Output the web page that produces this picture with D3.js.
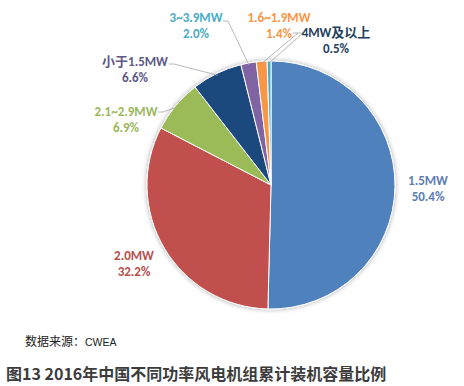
<!DOCTYPE html>
<html>
<head>
<meta charset="utf-8">
<script src="https://cdn.jsdelivr.net/npm/d3@7"></script>
<style>
  body { margin: 0; background: #fff; }
  svg { display: block; }
</style>
</head>
<body>
<svg id="chart" width="464" height="386"></svg>
<script>
// data: installed capacity share by turbine size, 2016
const categories = ['1.5MW', '2.0MW', '2.1~2.9MW', '小于1.5MW', '3~3.9MW', '1.6~1.9MW', '4MW及以上'];
const shares = [50.4, 32.2, 6.9, 6.6, 2.0, 1.4, 0.5];
const sliceColors = ['#4f81bd', '#c0504d', '#9bbb59', '#1f497d', '#8064a2', '#f79646', '#4bacc6'];
const labelColors = ['#5b7db5', '#b5504e', '#9bb85a', '#5c5888', '#4bacc6', '#f79646', '#243f60'];

const svg = d3.select('#chart');
const cx = 271;
const cy = 185;
const radius = 124;

// label anchors (text centre, first line baseline) and leader start points
const labelPos = [[428, 185], [134, 260], [126, 116], [135, 66], [196, 22], [279, 22], [336, 37]];
const leaderStart = [null, null, [158, 112], [169, 64], [223, 21], [293, 33], [298, 33]];

const pie = d3.pie().value(d => d).sort(null);
const arcs = pie(shares);
const arc = d3.arc().innerRadius(0).outerRadius(radius);

const defs = svg.append('defs');
const shadow = defs.append('filter').attr('id', 'glow')
  .attr('x', '-20%').attr('y', '-20%').attr('width', '140%').attr('height', '140%');
shadow.append('feGaussianBlur').attr('in', 'SourceAlpha').attr('stdDeviation', 2.5);
shadow.append('feOffset').attr('dx', 0).attr('dy', 0).attr('result', 'blur');
shadow.append('feComponentTransfer').append('feFuncA').attr('type', 'linear').attr('slope', 0.35);
const merge = shadow.append('feMerge');
merge.append('feMergeNode');
merge.append('feMergeNode').attr('in', 'SourceGraphic');

const g = svg.append('g').attr('transform', `translate(${cx},${cy})`);

g.append('g')
  .attr('filter', 'url(#glow)')
  .selectAll('path')
  .data(arcs)
  .enter()
  .append('path')
  .attr('d', arc)
  .attr('fill', (d, i) => sliceColors[i])
  .attr('stroke', '#fff')
  .attr('stroke-width', 1);

// leader lines from label to slice edge
arcs.forEach((d, i) => {
  if (!leaderStart[i]) return;
  const a = (d.startAngle + d.endAngle) / 2;
  const ex = cx + Math.sin(a) * (radius - 2);
  const ey = cy - Math.cos(a) * (radius - 2);
  const s = leaderStart[i];
  const pts = [s, [s[0] + 5, s[1]], [ex, ey]];
  svg.append('path')
    .attr('d', d3.line()(pts))
    .attr('fill', 'none')
    .attr('stroke', '#a6a6a6')
    .attr('stroke-width', 0.8);
});

// data labels
const labels = svg.append('g')
  .attr('font-family', 'Calibri, "Open Sans", "Noto Sans CJK SC", sans-serif')
  .attr('font-size', 13)
  .attr('font-weight', 'bold')
  .attr('text-anchor', 'middle');

categories.forEach((c, i) => {
  const t = labels.append('text')
    .attr('x', labelPos[i][0])
    .attr('y', labelPos[i][1])
    .attr('fill', labelColors[i]);
  t.append('tspan').text(c);
  t.append('tspan')
    .attr('x', labelPos[i][0])
    .attr('dy', 16)
    .text(d3.format('.1f')(shares[i]) + '%');
});

// source and caption
svg.append('text')
  .attr('x', 25)
  .attr('y', 346)
  .attr('font-family', '"Noto Sans CJK SC", sans-serif')
  .attr('font-size', 12)
  .attr('fill', '#222')
  .text('数据来源：')
  .append('tspan')
  .attr('font-family', '"Liberation Sans", Arial, sans-serif')
  .attr('font-size', 10.5)
  .text('CWEA');

svg.append('text')
  .attr('x', 6)
  .attr('y', 380)
  .attr('font-family', '"Noto Sans CJK SC", sans-serif')
  .attr('font-size', 16)
  .attr('font-weight', 'bold')
  .attr('fill', '#3c3c3c')
  .text('图13 2016年中国不同功率风电机组累计装机容量比例');
</script>
</body>
</html>
